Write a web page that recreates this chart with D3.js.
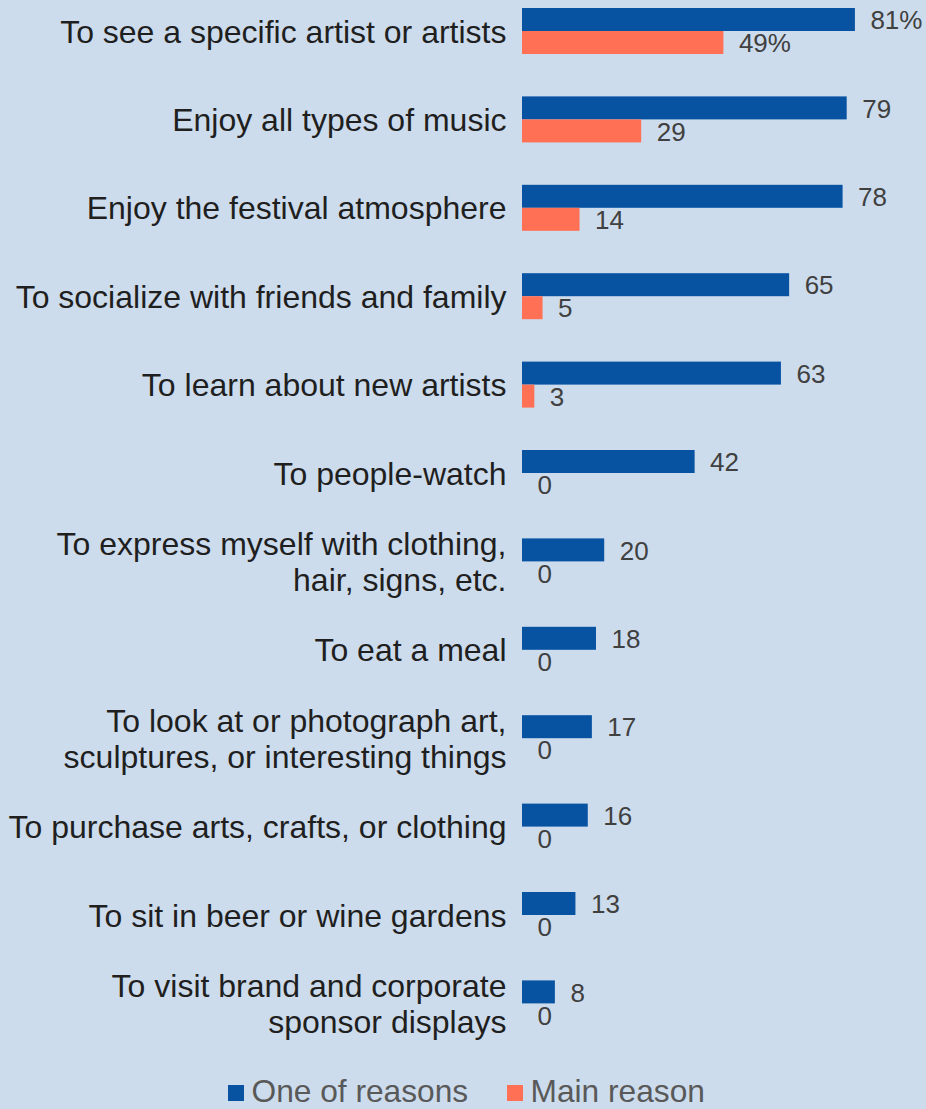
<!DOCTYPE html>
<html>
<head>
<meta charset="utf-8">
<script src="https://cdn.jsdelivr.net/npm/d3@7"></script>
<style>
  html, body { margin: 0; padding: 0; background: #cddcec; }
  svg { display: block; font-family: "Liberation Sans", Arial, sans-serif; }
</style>
</head>
<body>
<svg id="chart" width="926" height="1109"></svg>
<script>
// Reasons for attending, as lines of label text
const categories = [
  ["To see a specific artist or artists"],
  ["Enjoy all types of music"],
  ["Enjoy the festival atmosphere"],
  ["To socialize with friends and family"],
  ["To learn about new artists"],
  ["To people-watch"],
  ["To express myself with clothing,", "hair, signs, etc."],
  ["To eat a meal"],
  ["To look at or photograph art,", "sculptures, or interesting things"],
  ["To purchase arts, crafts, or clothing"],
  ["To sit in beer or wine gardens"],
  ["To visit brand and corporate", "sponsor displays"]
];
const oneOfReasons = [81, 79, 78, 65, 63, 42, 20, 18, 17, 16, 13, 8];
const mainReason   = [49, 29, 14, 5, 3, 0, 0, 0, 0, 0, 0, 0];
const seriesNames  = ["One of reasons", "Main reason"];
const seriesColors = ["#0753a2", "#ff7055"];

const svg = d3.select("#chart");

const keys = categories.map((c, i) => i);
const step = 88.4, groupH = 46;
const pad = 1 - groupH / step;

const y = d3.scaleBand()
  .domain(keys)
  .range([-13.2, -13.2 + step * categories.length])
  .paddingInner(pad)
  .paddingOuter(pad / 2);

const ySub = d3.scaleBand()
  .domain([0, 1])
  .range([0, y.bandwidth()]);

const x = d3.scaleLinear().domain([0, 100]).range([522, 933]);

const rows = keys.map(i => ({
  i,
  lines: categories[i],
  values: [oneOfReasons[i], mainReason[i]]
}));

const g = svg.append("g");

const groups = g.selectAll("g.grp")
  .data(rows)
  .join("g")
  .attr("class", "grp")
  .attr("transform", d => `translate(0,${y(d.i)})`);

// Bars
groups.selectAll("rect")
  .data(d => d.values.map((v, s) => ({ v, s })))
  .join("rect")
  .attr("x", x(0))
  .attr("y", d => ySub(d.s))
  .attr("width", d => x(d.v) - x(0))
  .attr("height", ySub.bandwidth())
  .attr("fill", d => seriesColors[d.s]);

// Value labels
groups.each(function (row) {
  d3.select(this).selectAll("text.val")
    .data(row.values.map((v, s) => ({ v, s })))
    .join("text")
    .attr("class", "val")
    .attr("x", d => x(d.v) + 15.5)
    .attr("y", d => ySub(d.s) + ySub.bandwidth() / 2 + 9.7)
    .attr("font-size", 26)
    .attr("fill", "#404040")
    .text(d => row.i === 0 ? d.v + "%" : String(d.v));
});

// Category labels
const lineH = 36;
groups.append("text")
  .attr("class", "cat")
  .attr("text-anchor", "end")
  .attr("font-size", 32)
  .attr("fill", "#1f1f1f")
  .each(function (row) {
    const n = row.lines.length;
    const cy = y.bandwidth() / 2;
    d3.select(this).selectAll("tspan")
      .data(row.lines)
      .join("tspan")
      .attr("x", 506.5)
      .attr("y", (l, k) => cy + 11.6 + (k - (n - 1) / 2) * lineH)
      .text(l => l);
  });

// Legend
const legendItems = [
  { name: seriesNames[0], color: seriesColors[0], x: 228 },
  { name: seriesNames[1], color: seriesColors[1], x: 507 }
];
const lg = svg.append("g").attr("class", "legend");
const li = lg.selectAll("g").data(legendItems).join("g")
  .attr("transform", d => `translate(${d.x},1085)`);
li.append("rect")
  .attr("width", 16).attr("height", 16)
  .attr("fill", d => d.color);
li.append("text")
  .attr("x", 23.5)
  .attr("y", 17)
  .attr("font-size", 31.7)
  .attr("fill", "#595959")
  .text(d => d.name);
</script>
</body>
</html>
